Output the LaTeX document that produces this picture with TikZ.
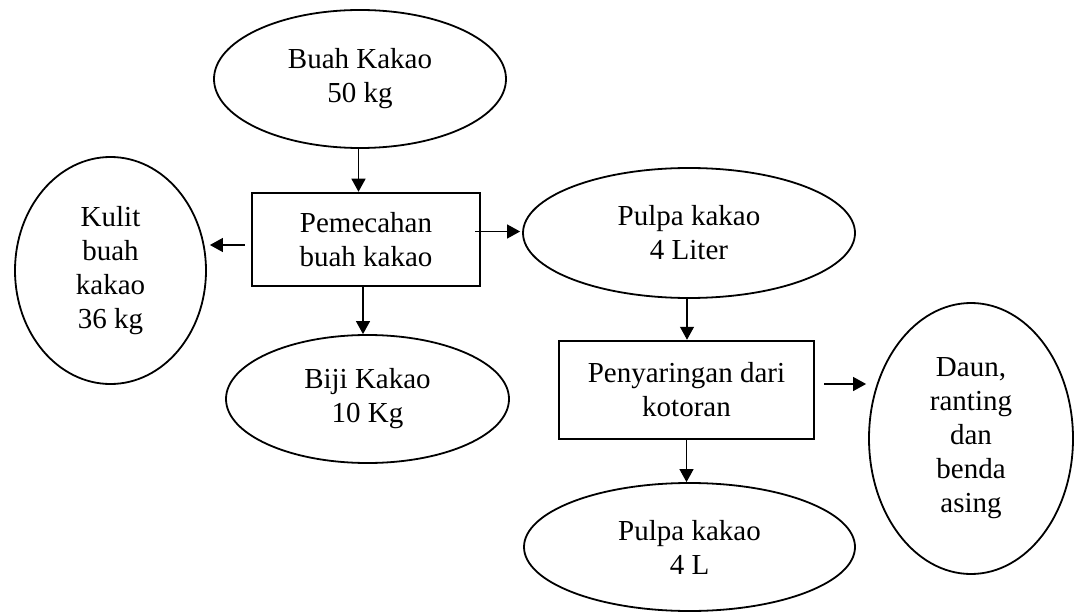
\documentclass[tikz,border=0pt]{standalone}
\usepackage{fontspec}
\setmainfont{Liberation Serif}
\usetikzlibrary{shapes.geometric,arrows.meta}
\begin{document}
\begin{tikzpicture}[x=1pt,y=1pt,
  every node/.style={font=\fontsize{29}{34}\selectfont, align=center, inner sep=0pt},
  oval/.style={draw, ellipse, line width=1.8pt},
  procbox/.style={draw, rectangle, line width=2.5pt},
  arr/.style={-{Triangle[length=13pt,width=14pt]}, line width=1.2pt}
]
\useasboundingbox (0,0) rectangle (1075,-612);
\node[oval, minimum width=292pt, minimum height=138pt] (buah) at (360,-79) {Buah Kakao\\50 kg};
\node[oval, minimum width=191pt, minimum height=227pt] (kulit) at (110.5,-270.5) {Kulit\\buah\\kakao\\36 kg};
\node[procbox, minimum width=228pt, minimum height=93pt] (pem) at (366,-239.5) {Pemecahan\\buah kakao};
\node[oval, minimum width=332pt, minimum height=130pt] (pulpa1) at (689,-233) {Pulpa kakao\\4 Liter};
\node[oval, minimum width=283pt, minimum height=128pt] (biji) at (367.5,-399) {Biji Kakao\\10 Kg};
\node[procbox, minimum width=255pt, minimum height=98pt] (pen) at (686.5,-390) {Penyaringan dari\\kotoran};
\node[oval, minimum width=204pt, minimum height=271pt] (daun) at (971,-438.5) {Daun,\\ranting\\dan\\benda\\asing};
\node[oval, minimum width=331pt, minimum height=128pt] (pulpa2) at (689.5,-547) {Pulpa kakao\\4 L};

\draw[arr] ([xshift=-1.5pt]buah.south) -- ([xshift=-1.5pt]buah.south |- pem.north);
\draw[arr] ([xshift=-6pt,yshift=-5.5pt]pem.west) -- ([xshift=3pt,yshift=-5.5pt]pem.west -| kulit.east);
\draw[arr] ([xshift=-6pt,yshift=8pt]pem.east) -- ([xshift=-2pt,yshift=8pt]pem.east -| pulpa1.west);
\draw[arr] ([xshift=-3pt]pem.south) -- ([xshift=-3pt]pem.south |- biji.north);
\draw[arr] ([xshift=-2pt]pulpa1.south) -- ([xshift=-2pt]pulpa1.south |- pen.north);
\draw[arr] ([xshift=9pt,yshift=6pt]pen.east) -- ([xshift=-2pt,yshift=6pt]pen.east -| daun.west);
\draw[arr] (pen.south) -- (pen.south |- pulpa2.north);
\end{tikzpicture}
\end{document}
